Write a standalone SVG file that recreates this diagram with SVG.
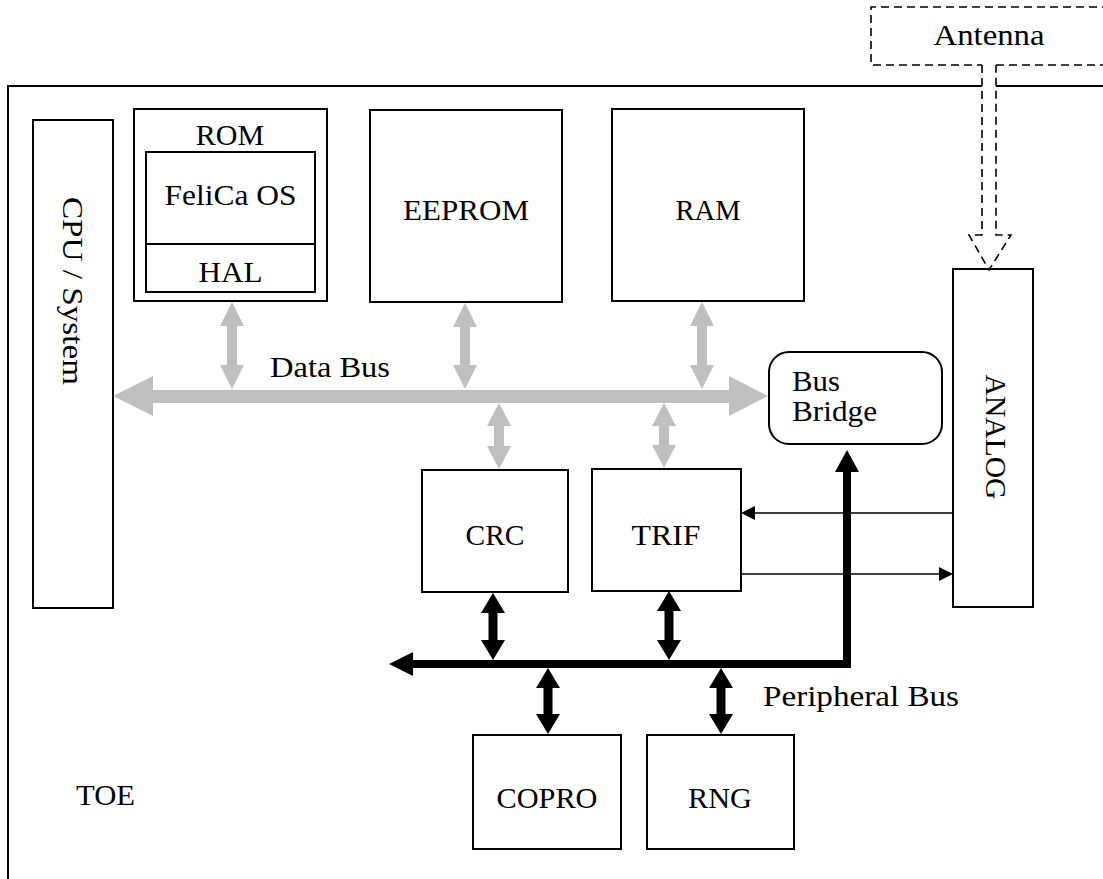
<svg xmlns="http://www.w3.org/2000/svg" width="1103" height="879" viewBox="0 0 1103 879">
<style>
  text { font-family: "Liberation Serif", "Times New Roman", serif; font-size: 30px; fill: #000; }
  .c { text-anchor: middle; }
  .box { fill: #fff; stroke: #000; stroke-width: 2; }
  .dash { fill: none; stroke: #000; stroke-width: 1.6; stroke-dasharray: 8 5; }
  .gray { fill: #bfbfbf; stroke: none; }
  .blk { fill: #000; stroke: none; }
  .thin { stroke: #000; stroke-width: 1.6; fill: none; }
</style>
<rect width="1103" height="879" fill="#fff"/>

<g id="toe">
  <path d="M1110,86 H8 V890" fill="none" stroke="#000" stroke-width="2"/>
  <text x="76" y="805" textLength="59" lengthAdjust="spacingAndGlyphs">TOE</text>
</g>

<g id="antenna">
  <path class="dash" d="M1110,7 H871 V65 H982 M996,65 H1110"/>
  <text class="c" x="989" y="45" textLength="111" lengthAdjust="spacingAndGlyphs">Antenna</text>
</g>

<g id="cpu">
  <rect class="box" x="33" y="120" width="80" height="488"/>
  <text class="c" transform="translate(73,291) rotate(90)" y="10" textLength="188" lengthAdjust="spacingAndGlyphs">CPU / System</text>
</g>

<g id="rom">
  <rect class="box" x="134" y="109" width="193" height="192"/>
  <text class="c" x="230" y="145">ROM</text>
  <rect class="box" x="146" y="152" width="169" height="140"/>
  <line x1="146" y1="244" x2="315" y2="244" stroke="#000" stroke-width="2"/>
  <text class="c" x="230.5" y="205" textLength="132" lengthAdjust="spacingAndGlyphs">FeliCa OS</text>
  <text class="c" x="230.5" y="282" textLength="64" lengthAdjust="spacingAndGlyphs">HAL</text>
</g>

<g id="eeprom">
  <rect class="box" x="370" y="110" width="192" height="192"/>
  <text class="c" x="466" y="220" textLength="126" lengthAdjust="spacingAndGlyphs">EEPROM</text>
</g>

<g id="ram">
  <rect class="box" x="612" y="109" width="192" height="192"/>
  <text class="c" x="708" y="220" textLength="65" lengthAdjust="spacingAndGlyphs">RAM</text>
</g>

<g id="busbridge">
  <rect class="box" x="769" y="352" width="173" height="92" rx="20" ry="20"/>
  <text x="792" y="391" textLength="48" lengthAdjust="spacingAndGlyphs">Bus</text>
  <text x="792" y="421" textLength="85" lengthAdjust="spacingAndGlyphs">Bridge</text>
</g>

<g id="analog">
  <rect class="box" x="953" y="269" width="80" height="338"/>
  <text class="c" transform="translate(996,437) rotate(90)" y="10" textLength="125" lengthAdjust="spacingAndGlyphs">ANALOG</text>
</g>

<g id="crc">
  <rect class="box" x="422" y="470" width="146" height="122"/>
  <text class="c" x="495" y="545" textLength="59" lengthAdjust="spacingAndGlyphs">CRC</text>
</g>

<g id="trif">
  <rect class="box" x="592" y="469" width="149" height="122"/>
  <text class="c" x="666" y="545" textLength="69" lengthAdjust="spacingAndGlyphs">TRIF</text>
</g>

<g id="copro">
  <rect class="box" x="473" y="735" width="148" height="114"/>
  <text class="c" x="547" y="808" textLength="101" lengthAdjust="spacingAndGlyphs">COPRO</text>
</g>

<g id="rng">
  <rect class="box" x="647" y="735" width="147" height="114"/>
  <text class="c" x="720" y="808" textLength="64" lengthAdjust="spacingAndGlyphs">RNG</text>
</g>

<g id="connectors">
  <!-- antenna block arrow -->
  <path d="M982,65 V235 H969 L989,270 L1011,235 H996 V65 Z" fill="#fff" stroke="none"/>
  <path class="dash" d="M982,65 V235 H969 L989,270 L1011,235 H996 V65"/>

  <!-- data bus -->
  <polygon class="gray" points="113,396 153,376 153,390 729,390 729,376 768,396 729,416 729,403 153,403 153,416"/>
  <text x="270" y="377" textLength="120" lengthAdjust="spacingAndGlyphs">Data Bus</text>
  <polygon class="gray" points="232,302 244,326 237,326 237,365 244,365 232,389 220,365 227,365 227,326 220,326"/>
  <polygon class="gray" points="465,303 477,327 470,327 470,365 477,365 465,389 453,365 460,365 460,327 453,327"/>
  <polygon class="gray" points="702,302 714,326 707,326 707,365 714,365 702,389 690,365 697,365 697,326 690,326"/>
  <polygon class="gray" points="499,403 511,426 504,426 504,446 511,446 499,469 487,446 494,446 494,426 487,426"/>
  <polygon class="gray" points="664,403 676,426 669,426 669,445 676,445 664,468 652,445 659,445 659,426 652,426"/>

  <!-- peripheral bus -->
  <polygon class="blk" points="389,664 413,652 413,660 843,660 843,472 835,472 847,450 859,472 851,472 851,668 413,668 413,676"/>
  <text x="763" y="706" textLength="196" lengthAdjust="spacingAndGlyphs">Peripheral Bus</text>
  <polygon class="blk" points="493,593 505,613 497.5,613 497.5,640 505,640 493,660 481,640 488.5,640 488.5,613 481,613"/>
  <polygon class="blk" points="669,591 681,611 673.5,611 673.5,640 681,640 669,660 657,640 664.5,640 664.5,611 657,611"/>
  <polygon class="blk" points="548,668 560,688 552.5,688 552.5,714 560,714 548,734 536,714 543.5,714 543.5,688 536,688"/>
  <polygon class="blk" points="721,668 733,688 725.5,688 725.5,714 733,714 721,734 709,714 716.5,714 716.5,688 709,688"/>

  <!-- analog <-> trif -->
  <line class="thin" x1="953" y1="513" x2="754" y2="513"/>
  <polygon class="blk" points="741,513 755,506 755,520"/>
  <line class="thin" x1="741" y1="574" x2="940" y2="574"/>
  <polygon class="blk" points="953,574 939,567 939,581"/>
</g>
</svg>
